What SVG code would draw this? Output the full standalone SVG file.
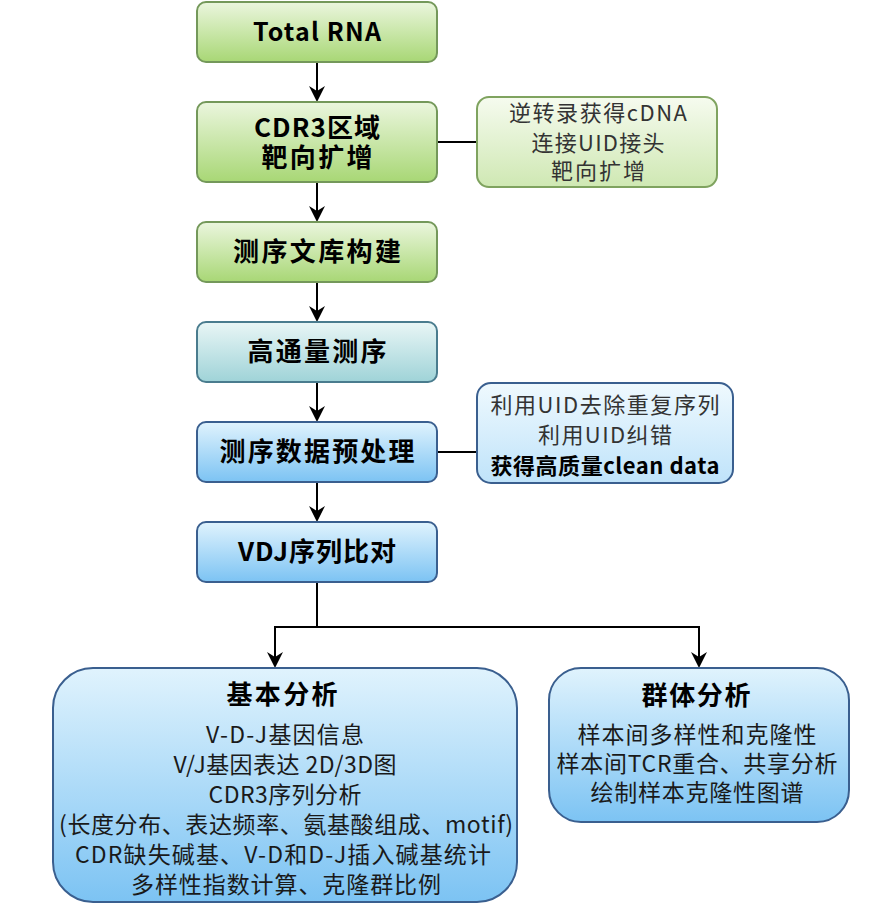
<svg xmlns="http://www.w3.org/2000/svg" width="872" height="906" viewBox="0 0 872 906">
<defs>
<linearGradient id="gGreen" x1="0" y1="0" x2="0" y2="1"><stop offset="0" stop-color="#ebf6de"/><stop offset="1" stop-color="#a8d775"/></linearGradient>
<linearGradient id="gGreenL" x1="0" y1="0" x2="0" y2="1"><stop offset="0" stop-color="#f6fbef"/><stop offset="1" stop-color="#cfe8b3"/></linearGradient>
<linearGradient id="gTeal" x1="0" y1="0" x2="0" y2="1"><stop offset="0" stop-color="#e9f6f6"/><stop offset="1" stop-color="#9fd3d8"/></linearGradient>
<linearGradient id="gBlue" x1="0" y1="0" x2="0" y2="1"><stop offset="0" stop-color="#e0f3fd"/><stop offset="1" stop-color="#7cc3f3"/></linearGradient>
<linearGradient id="gBlueL" x1="0" y1="0" x2="0" y2="1"><stop offset="0" stop-color="#eff9fe"/><stop offset="1" stop-color="#bfe3fa"/></linearGradient>
<marker id="arr" viewBox="0 -8 16 16" refX="12" refY="0" markerWidth="16" markerHeight="16" markerUnits="userSpaceOnUse" orient="auto">
<path d="M0,-8 L16,0 L0,8 L5,0 Z" fill="#000"/>
</marker>
</defs>
<style>
.box{stroke-width:2}
.green{fill:url(#gGreen);stroke:#74985a}
.greenL{fill:url(#gGreenL);stroke:#7fa35f}
.teal{fill:url(#gTeal);stroke:#4a7c8e}
.blue{fill:url(#gBlue);stroke:#3a5f8f}
.blueL{fill:url(#gBlueL);stroke:#3a5f8f}
text{font-family:"Noto Sans CJK SC","Noto Sans",sans-serif;text-anchor:middle}
.t{font-size:26px;font-weight:bold;fill:#000}
.s{font-size:22px;fill:#333}
.sb{font-size:22px;font-weight:bold;fill:#000}
.bl{font-size:23px;fill:#1a1a1a}
.br{font-size:23px;fill:#1a1a1a}
.conn{fill:none;stroke:#000;stroke-width:2}
</style>
<g id="connectors">
<path class="conn" d="M317,62 L317,98" marker-end="url(#arr)"/>
<path class="conn" d="M317,182 L317,218" marker-end="url(#arr)"/>
<path class="conn" d="M317,282 L317,318" marker-end="url(#arr)"/>
<path class="conn" d="M317,382 L317,418" marker-end="url(#arr)"/>
<path class="conn" d="M317,482 L317,518" marker-end="url(#arr)"/>
<path class="conn" d="M317,582 L317,627 L275,627 L275,664" marker-end="url(#arr)"/>
<path class="conn" d="M317,627 L699,627 L699,664" marker-end="url(#arr)"/>
<path class="conn" d="M437,142 L477,142"/>
<path class="conn" d="M437,452 L477,452"/>
</g>
<g id="n1"><rect class="box green" x="197" y="2" width="240" height="60" rx="9"/><text class="t" x="317" y="41" style="font-size:25px" textLength="128" lengthAdjust="spacing">Total RNA</text></g>
<g id="n2"><rect class="box green" x="197" y="102" width="240" height="80" rx="9"/><text class="t" x="317" y="137" textLength="126" lengthAdjust="spacing">CDR3区域</text><text class="t" x="317" y="167" textLength="111" lengthAdjust="spacing">靶向扩增</text></g>
<g id="n3"><rect class="box green" x="197" y="222" width="240" height="60" rx="9"/><text class="t" x="317" y="261" textLength="168" lengthAdjust="spacing">测序文库构建</text></g>
<g id="n4"><rect class="box teal" x="197" y="322" width="240" height="60" rx="9"/><text class="t" x="317" y="361" textLength="139" lengthAdjust="spacing">高通量测序</text></g>
<g id="n5"><rect class="box blue" x="197" y="422" width="240" height="60" rx="9"/><text class="t" x="317" y="461" textLength="195" lengthAdjust="spacing">测序数据预处理</text></g>
<g id="n6"><rect class="box blue" x="197" y="522" width="240" height="60" rx="9"/><text class="t" x="317" y="561" textLength="158" lengthAdjust="spacing">VDJ序列比对</text></g>
<g id="side1"><rect class="box greenL" x="477" y="97" width="240" height="90" rx="12"/>
<text class="s" x="598" y="121" textLength="178" lengthAdjust="spacing">逆转录获得cDNA</text><text class="s" x="598" y="151" textLength="133" lengthAdjust="spacing">连接UID接头</text><text class="s" x="598" y="179" textLength="94" lengthAdjust="spacing">靶向扩增</text></g>
<g id="side2"><rect class="box blueL" x="477" y="383" width="256" height="100" rx="14"/>
<text class="s" x="605" y="413" textLength="229" lengthAdjust="spacing">利用UID去除重复序列</text><text class="s" x="605" y="443" textLength="134" lengthAdjust="spacing">利用UID纠错</text><text class="sb" x="605" y="474" textLength="229" lengthAdjust="spacing">获得高质量clean data</text></g>
<g id="basic"><rect class="box blue" x="53" y="668" width="464" height="234" rx="40"/>
<text class="t" x="282" y="704" textLength="111" lengthAdjust="spacing">基本分析</text>
<text class="bl" x="285" y="743" textLength="158" lengthAdjust="spacing">V-D-J基因信息</text>
<text class="bl" x="285" y="773" textLength="223" lengthAdjust="spacing">V/J基因表达 2D/3D图</text>
<text class="bl" x="285" y="803" textLength="153" lengthAdjust="spacing">CDR3序列分析</text>
<text class="bl" x="286" y="833" textLength="454" lengthAdjust="spacing">(长度分布、表达频率、氨基酸组成、motif)</text>
<text class="bl" x="283" y="863" textLength="416" lengthAdjust="spacing">CDR缺失碱基、V-D和D-J插入碱基统计</text>
<text class="bl" x="286" y="893" textLength="310" lengthAdjust="spacing">多样性指数计算、克隆群比例</text></g>
<g id="group"><rect class="box blue" x="549" y="668" width="300" height="154" rx="32"/>
<text class="t" x="696" y="705" textLength="109" lengthAdjust="spacing">群体分析</text>
<text class="br" x="697" y="743" textLength="239" lengthAdjust="spacing">样本间多样性和克隆性</text>
<text class="br" x="697" y="772" textLength="281" lengthAdjust="spacing">样本间TCR重合、共享分析</text>
<text class="br" x="697" y="801" textLength="213" lengthAdjust="spacing">绘制样本克隆性图谱</text></g>
</svg>
